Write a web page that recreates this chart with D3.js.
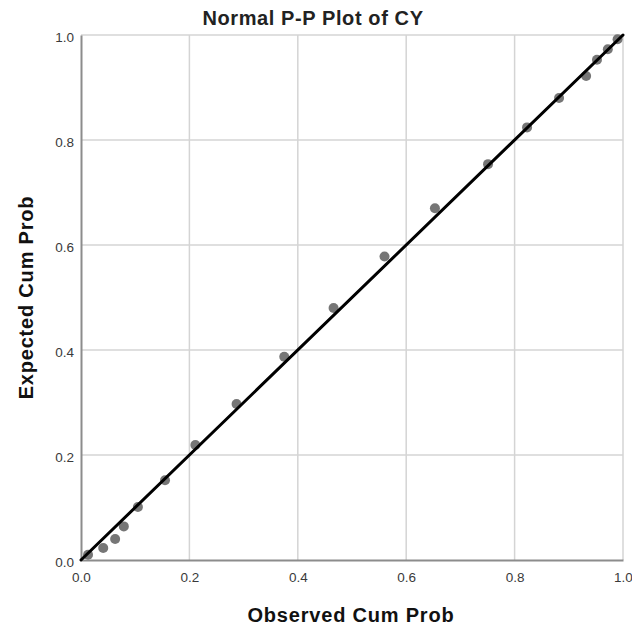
<!DOCTYPE html>
<html>
<head>
<meta charset="utf-8">
<script src="https://cdn.jsdelivr.net/npm/d3@7"></script>
<style>
  body { margin: 0; background: #fff; }
  text { font-family: "Liberation Sans", Arial, sans-serif; }
</style>
</head>
<body>
<svg id="chart" width="632" height="628"></svg>
<script>
// observed vs expected cumulative probabilities
const observed = [0.013, 0.041, 0.063, 0.079, 0.105, 0.155, 0.211, 0.287, 0.375, 0.466, 0.560, 0.653, 0.751, 0.823, 0.882, 0.932, 0.952, 0.972, 0.990];
const expected = [0.010, 0.023, 0.040, 0.064, 0.101, 0.152, 0.219, 0.297, 0.387, 0.480, 0.578, 0.670, 0.754, 0.824, 0.880, 0.922, 0.953, 0.973, 0.992];
const ticks = [0, 0.2, 0.4, 0.6, 0.8, 1.0];

const svg = d3.select("#chart");
const margin = {left: 81, right: 9, top: 35, bottom: 68};
const W = 632, H = 628;

const x = d3.scaleLinear().domain([0, 1]).range([margin.left, W - margin.right]);
const y = d3.scaleLinear().domain([0, 1]).range([H - margin.bottom, margin.top]);

// grid
svg.append("g").selectAll("line.gx")
  .data(ticks.slice(1))
  .enter().append("line")
  .attr("x1", d => x(d)).attr("x2", d => x(d))
  .attr("y1", y(0)).attr("y2", y(1))
  .attr("stroke", "#d4d4d4").attr("stroke-width", 1.5);
svg.append("g").selectAll("line.gy")
  .data(ticks.slice(1))
  .enter().append("line")
  .attr("y1", d => y(d)).attr("y2", d => y(d))
  .attr("x1", x(0)).attr("x2", x(1))
  .attr("stroke", "#d4d4d4").attr("stroke-width", 1.5);

// axes
const xAxis = svg.append("g")
  .attr("transform", `translate(0,${y(0)})`)
  .call(d3.axisBottom(x).tickValues(ticks).tickSize(0).tickPadding(12).tickFormat(d3.format(".1f")));
const yAxis = svg.append("g")
  .attr("transform", `translate(${x(0)},0)`)
  .call(d3.axisLeft(y).tickValues(ticks).tickSize(0).tickPadding(7).tickFormat(d3.format(".1f")));
yAxis.selectAll("text").attr("dy", "0.5em");
[xAxis, yAxis].forEach(a => {
  a.select(".domain").attr("stroke", "#8c8c8c").attr("stroke-width", 2);
  a.selectAll("text").attr("font-size", 13.5).attr("fill", "#3a3a3a")
    .style("font-family", "'Liberation Sans', Arial, sans-serif");
});

// points
svg.append("g").selectAll("circle")
  .data(observed.map((o, i) => [o, expected[i]]))
  .enter().append("circle")
  .attr("cx", d => x(d[0])).attr("cy", d => y(d[1]))
  .attr("r", 5).attr("fill", "#767676");

// reference line
svg.append("line")
  .attr("x1", x(0)).attr("y1", y(0))
  .attr("x2", x(1)).attr("y2", y(1))
  .attr("stroke", "#000").attr("stroke-width", 3)
  .attr("stroke-linecap", "round");

// titles
svg.append("text")
  .attr("x", 313).attr("y", 25)
  .attr("text-anchor", "middle")
  .attr("font-size", 20).attr("font-weight", "bold").attr("fill", "#222")
  .attr("letter-spacing", 0.6)
  .text("Normal P-P Plot of CY");
svg.append("text")
  .attr("x", 351).attr("y", 622)
  .attr("text-anchor", "middle")
  .attr("font-size", 20).attr("font-weight", "bold").attr("fill", "#111")
  .attr("letter-spacing", 0.8)
  .text("Observed Cum Prob");
svg.append("text")
  .attr("transform", `translate(33,${(y(0) + y(1)) / 2}) rotate(-90)`)
  .attr("text-anchor", "middle")
  .attr("font-size", 20).attr("font-weight", "bold").attr("fill", "#111")
  .attr("letter-spacing", 0.8)
  .text("Expected Cum Prob");
</script>
</body>
</html>
